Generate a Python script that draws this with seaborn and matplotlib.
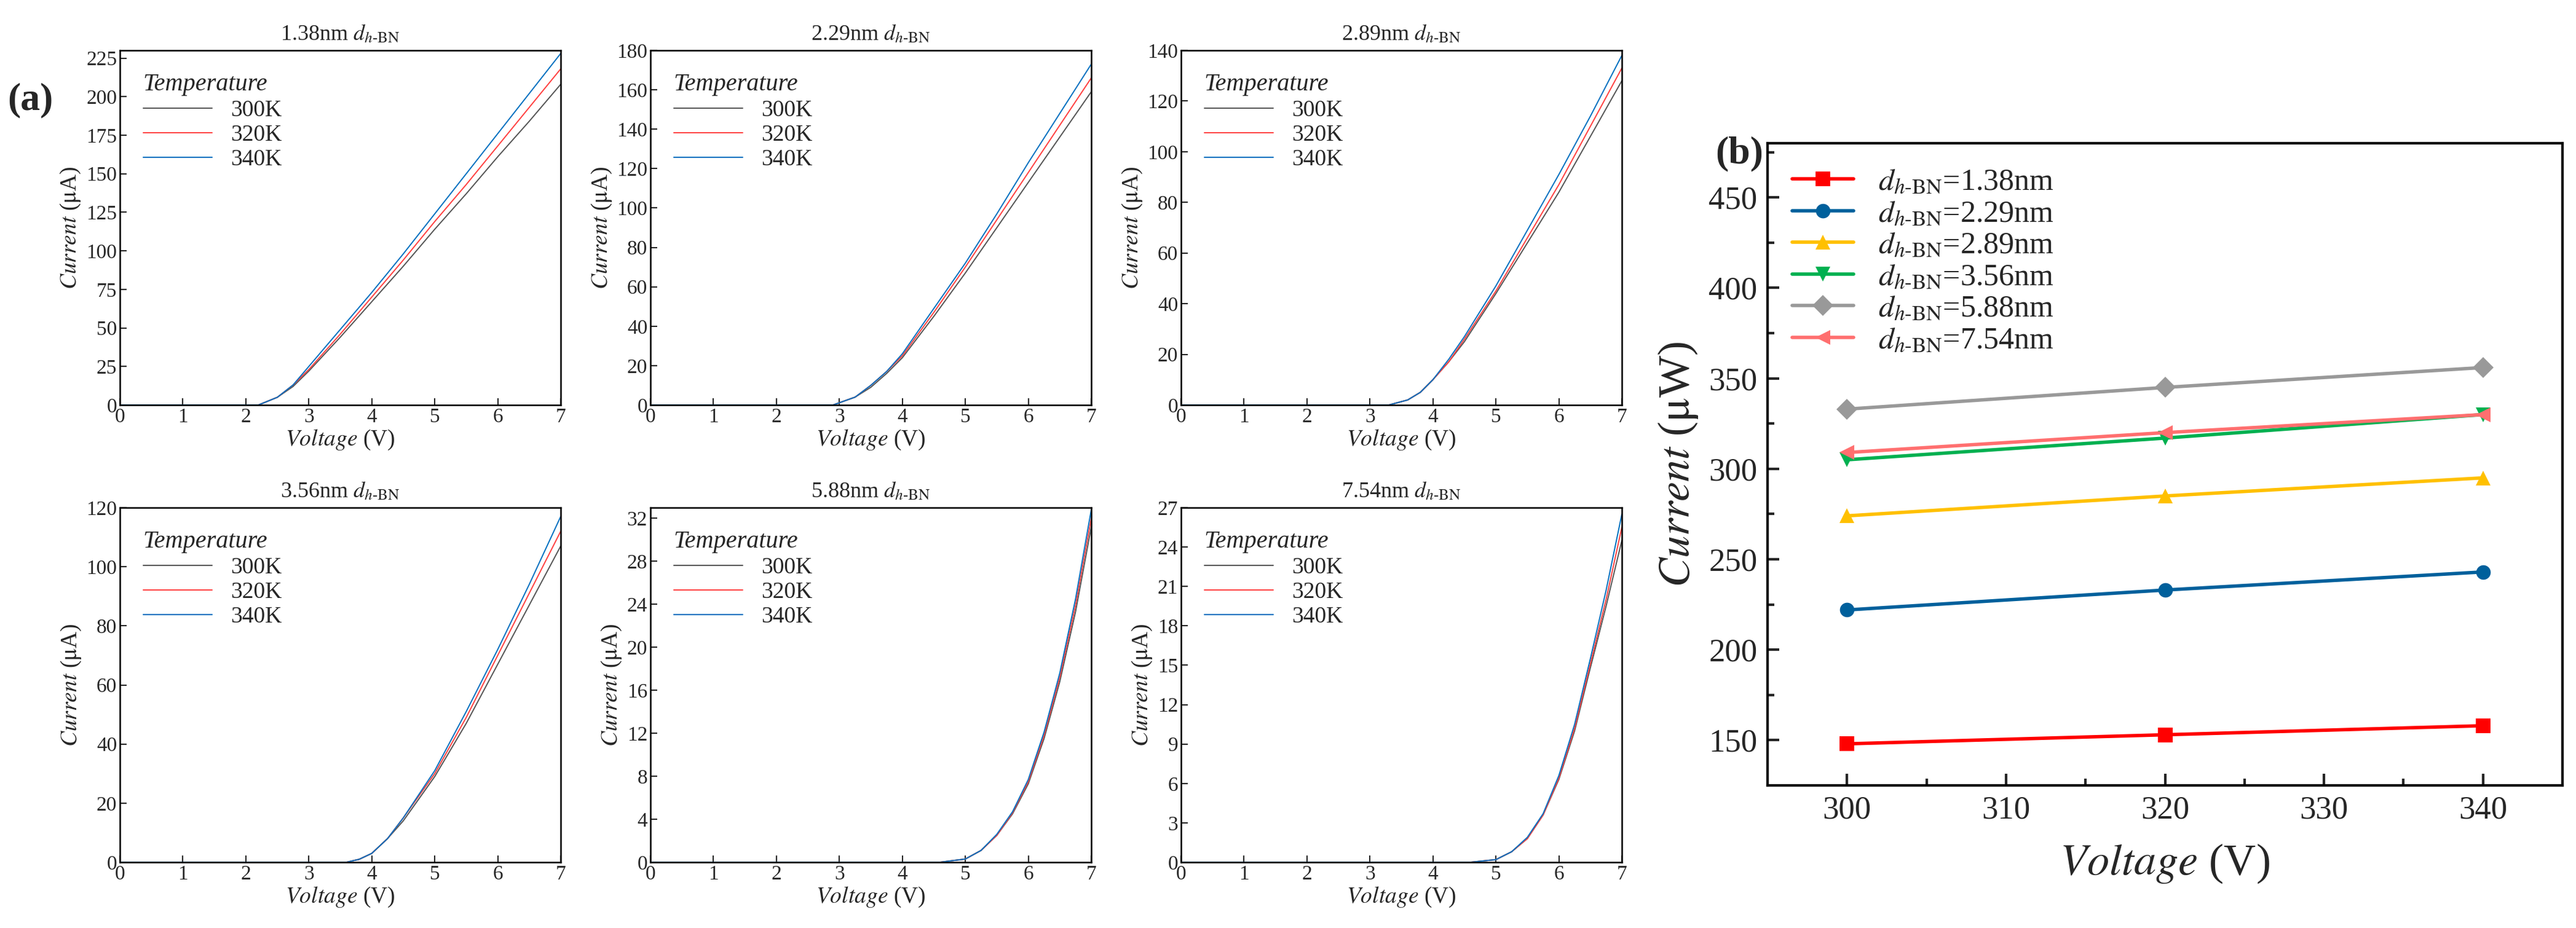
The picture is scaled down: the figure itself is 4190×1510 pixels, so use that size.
import numpy as np
import pandas as pd
import matplotlib
matplotlib.use('Agg')
import matplotlib.pyplot as plt
import seaborn as sns

sns.set_style('white')
plt.rcParams['font.family'] = ['Liberation Serif', 'DejaVu Serif']
plt.rcParams['mathtext.fontset'] = 'stix'

# ---- panel (a) data: I-V curves at three temperatures ----
temps = ['300K', '320K', '340K']
thick = ['1.38', '2.29', '2.89', '3.56', '5.88', '7.54']

v1 = [0, 2.2, 2.5, 2.75, 3, 3.5, 4, 4.5, 5, 5.5, 6, 6.5, 7]
i1 = {'300K': [0, 0, 5, 12, 22, 44, 67, 90, 114, 137, 161, 184, 208],
      '320K': [0, 0, 5, 13, 23, 46, 70, 94, 119, 143, 168, 193, 218],
      '340K': [0, 0, 5, 13, 25, 49, 73, 98, 124, 150, 176, 202, 228]}
v2 = [0, 2.9, 3.25, 3.5, 3.75, 4, 4.5, 5, 5.5, 6, 6.5, 7]
i2 = {'300K': [0, 0, 4, 9, 16, 24, 45, 67, 90, 113, 136, 159],
      '320K': [0, 0, 4, 10, 17, 25, 47, 70, 94, 118, 142, 166],
      '340K': [0, 0, 4, 10, 17, 26, 49, 72, 97, 123, 148, 173]}
v3 = [0, 3.3, 3.6, 3.8, 4, 4.25, 4.5, 5, 5.5, 6, 6.5, 7]
i3 = {'300K': [0, 0, 2, 5, 10, 17, 25, 44, 64, 84, 106, 128],
      '320K': [0, 0, 2, 5, 10, 17, 26, 45, 66, 87, 110, 133],
      '340K': [0, 0, 2, 5, 10, 18, 27, 47, 69, 91, 114, 138]}
v4 = [0, 3.6, 3.8, 4, 4.25, 4.5, 5, 5.5, 6, 6.5, 7]
i4 = {'300K': [0, 0, 1, 3, 8, 14, 29, 47, 67, 87, 107],
      '320K': [0, 0, 1, 3, 8, 15, 30, 49, 70, 91, 112],
      '340K': [0, 0, 1, 3, 8, 15, 31, 51, 72, 94, 117]}
v5 = [0, 4.6, 5, 5.25, 5.5, 5.75, 6, 6.25, 6.5, 6.75, 7]
i5 = {'300K': [0, 0, 0.3, 1.1, 2.5, 4.5, 7.3, 11.5, 16.8, 23.3, 31.2],
      '320K': [0, 0, 0.3, 1.1, 2.5, 4.6, 7.5, 11.8, 17.2, 23.9, 32.0],
      '340K': [0, 0, 0.3, 1.1, 2.6, 4.7, 7.7, 12.1, 17.6, 24.5, 32.8]}
v6 = [0, 4.6, 5, 5.25, 5.5, 5.75, 6, 6.25, 6.5, 6.75, 7]
i6 = {'300K': [0, 0, 0.2, 0.8, 1.8, 3.6, 6.3, 10.0, 14.8, 19.5, 24.5],
      '320K': [0, 0, 0.2, 0.8, 1.8, 3.6, 6.4, 10.2, 15.1, 20.0, 25.5],
      '340K': [0, 0, 0.2, 0.8, 1.9, 3.7, 6.6, 10.5, 15.5, 20.7, 26.5]}
volts = [v1, v2, v3, v4, v5, v6]
currents = [i1, i2, i3, i4, i5, i6]
ymax = [230, 180, 140, 120, 33, 27]
ystep = [25, 20, 20, 20, 4, 3]

# ---- panel (b) data ----
temp_b = [300, 320, 340]
b_vals = {'1.38': [148, 153, 158],
          '2.29': [222, 233, 243],
          '2.89': [274, 285, 295],
          '3.56': [305, 317, 330],
          '5.88': [333, 345, 356],
          '7.54': [309, 320, 330]}
b_colors = ['#FF0000', '#00609C', '#FFC000', '#00B050', '#999999', '#FF6F6F']
b_markers = ['s', 'o', '^', 'v', 'D', '<']

a_colors = {'300K': '#555555', '320K': '#FF4040', '340K': '#0070C0'}
dname = r'$d_{h\mathrm{\text{-}BN}}$'

W, H = 4190, 1510
fig = plt.figure(figsize=(W / 100, H / 100), dpi=100)

lefts = [195, 1058, 1921]
tops = [82, 826]
aw, ah = 717, 577

for k in range(6):
    r, c = divmod(k, 3)
    ax = fig.add_axes([lefts[c] / W, 1 - (tops[r] + ah) / H, aw / W, ah / H])
    rows = []
    for t in temps:
        for v, i in zip(volts[k], currents[k][t]):
            rows.append({'V': v, 'I': i, 'T': t})
    df = pd.DataFrame(rows)
    sns.lineplot(data=df, x='V', y='I', hue='T', palette=a_colors, lw=1.4, ax=ax)
    ax.set_xlim(0, 7)
    ax.set_ylim(0, ymax[k])
    ax.set_xticks(range(8))
    ax.set_yticks(np.arange(0, ymax[k] + 0.1, ystep[k]))
    ax.tick_params(direction='in', length=8, width=1.5, labelsize=24, bottom=True, left=True)
    for s in ax.spines.values():
        s.set_linewidth(1.8)
        s.set_color('black')
    ax.set_xlabel(r'$\it{Voltage}$ (V)', fontsize=27, labelpad=2)
    ax.set_ylabel(r'$\it{Current}$ ($\mathrm{\mu}$A)', fontsize=27, labelpad=4)
    ax.set_title(thick[k] + 'nm ' + dname, fontsize=26, pad=12)
    leg = ax.legend(title='Temperature', loc='upper left', frameon=False, fontsize=27,
                    handlelength=3.0, borderaxespad=0.6, labelspacing=0.15)
    leg.get_title().set_fontstyle('italic')
    leg.get_title().set_fontsize(29)
    leg._legend_box.align = 'left'

fig.text(0.003, 1 - 163 / H, '(a)', fontsize=46, fontweight='bold', va='center')

# panel (b)
bx = fig.add_axes([2875 / W, 1 - 1278 / H, (4168 - 2875) / W, (1278 - 233) / H])
for (name, vals), col, mk in zip(b_vals.items(), b_colors, b_markers):
    sns.lineplot(x=temp_b, y=vals, color=col, marker=mk, markersize=17, markeredgewidth=0,
                 lw=4, ax=bx, label=dname + '=' + name + 'nm')
bx.set_xlim(295, 345)
bx.set_ylim(125, 480)
bx.set_xticks([300, 310, 320, 330, 340])
bx.set_xticks([305, 315, 325, 335], minor=True)
bx.set_yticks(range(150, 451, 50))
bx.set_yticks(range(175, 476, 50), minor=True)
bx.tick_params(which='major', direction='in', length=14, width=3, labelsize=38, bottom=True, left=True, pad=12)
bx.tick_params(which='minor', direction='in', length=8, width=3, bottom=True, left=True)
for s in bx.spines.values():
    s.set_linewidth(3)
    s.set_color('black')
bx.set_xlabel(r'$\it{Voltage}$ (V)', fontsize=52, labelpad=20)
bx.set_ylabel(r'$\it{Current}$ ($\mathrm{\mu}$W)', fontsize=52, labelpad=10)
bx.legend(loc='upper left', frameon=False, fontsize=36, handlelength=2.0,
          labelspacing=0.1, borderaxespad=0.4)
fig.text(2790 / W, 1 - 250 / H, '(b)', fontsize=46, fontweight='bold', va='center')

plt.savefig('out.png', dpi=100)
